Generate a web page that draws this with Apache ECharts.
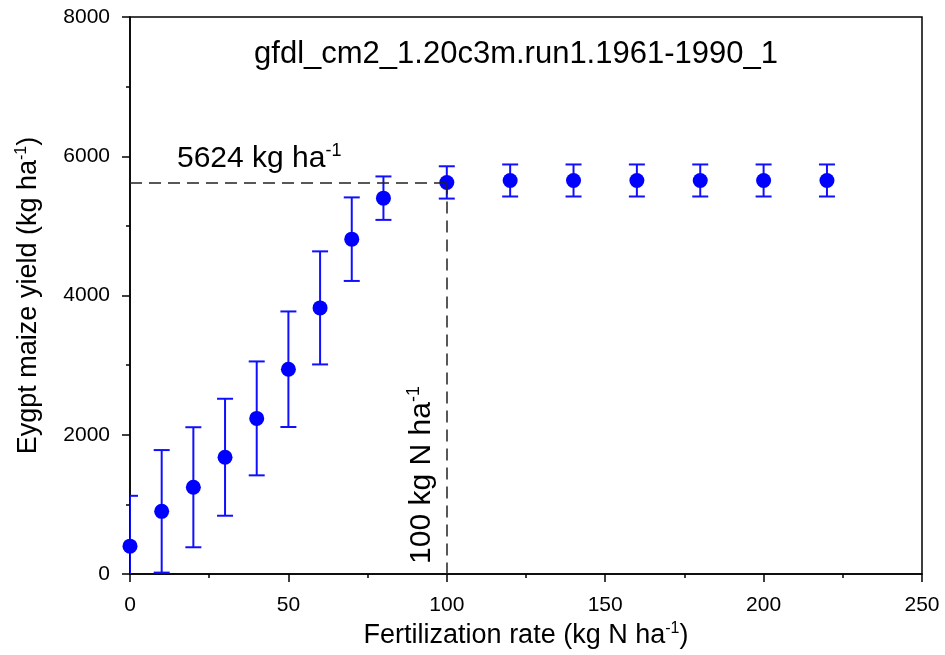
<!DOCTYPE html>
<html>
<head>
<meta charset="utf-8">
<script src="https://cdn.jsdelivr.net/npm/echarts@6/dist/echarts.min.js"></script>
<style>
html,body{margin:0;padding:0;background:#fff;}
#chart{width:945px;height:655px;}
</style>
</head>
<body>
<div id="chart"></div>
<script>
// ---- data ----
var fertRates = [0, 10, 20, 30, 40, 50, 60, 70, 80, 100, 120, 140, 160, 180, 200, 220];
var yieldMean = [400, 900, 1246, 1677, 2235, 2941, 3822, 4809, 5398, 5624, 5652, 5652, 5652, 5652, 5652, 5652];
var yieldSD   = [723, 880, 862, 840, 818, 830, 812, 600, 312, 232, 230, 230, 230, 230, 230, 230];
var xTicks = [0, 50, 100, 150, 200, 250];
var yTicks = [0, 2000, 4000, 6000, 8000];
var optimumYield = 5624;
var optimumRate = 100;
var titleText = 'gfdl_cm2_1.20c3m.run1.1961-1990_1';

var FONT = '"Liberation Sans", Arial, Helvetica, sans-serif';
var pointData = fertRates.map(function (x, i) { return [x, yieldMean[i]]; });
var errData = fertRates.map(function (x, i) { return [x, yieldMean[i] - yieldSD[i], yieldMean[i] + yieldSD[i]]; });

var chart = echarts.init(document.getElementById('chart'), null, {renderer: 'canvas'});

var supRich = {
  n: {fontFamily: FONT, fontSize: 27, color: '#000'},
  s: {fontFamily: FONT, fontSize: 16, color: '#000', verticalAlign: 'top', padding: [0, 0, 14, 0]}
};
var annRich = {
  n: {fontFamily: FONT, fontSize: 30, color: '#000'},
  s: {fontFamily: FONT, fontSize: 18, color: '#000', verticalAlign: 'top', padding: [0, 0, 15, 0]}
};

var option = {
  backgroundColor: '#fff',
  animation: false,
  title: {
    text: titleText,
    left: 511,
    top: 34,
    textAlign: 'center',
    textStyle: {fontFamily: FONT, fontSize: 31, fontWeight: 'normal', color: '#000'}
  },
  grid: {left: 130, top: 17, right: 23, bottom: 81, show: true, borderColor: '#000', borderWidth: 1.5, backgroundColor: 'transparent'},
  xAxis: {
    type: 'value', min: xTicks[0], max: xTicks[xTicks.length - 1], interval: 50,
    name: '{n|Fertilization rate (kg N ha}{s|-1}{n|)}',
    nameLocation: 'middle', nameGap: 44,
    nameTextStyle: {rich: supRich},
    axisLine: {show: true, onZero: false, lineStyle: {color: '#000', width: 1.5}},
    axisTick: {show: true, inside: false, length: 8, lineStyle: {color: '#000', width: 1.5}},
    minorTick: {show: true, splitNumber: 2, length: 4, lineStyle: {color: '#000', width: 1.5}},
    splitLine: {show: false},
    axisLabel: {margin: 21, color: '#000', fontFamily: FONT, fontSize: 21, formatter: function (v) { return String(v); }}
  },
  yAxis: {
    type: 'value', min: yTicks[0], max: yTicks[yTicks.length - 1], interval: 2000,
    name: '{n|Eygpt maize yield (kg ha}{s|-1}{n|)}',
    nameLocation: 'middle', nameGap: 86, nameRotate: 90,
    nameTextStyle: {rich: supRich},
    axisLine: {show: true, onZero: false, lineStyle: {color: '#000', width: 1.5}},
    axisTick: {show: true, inside: false, length: 8, lineStyle: {color: '#000', width: 1.5}},
    minorTick: {show: true, splitNumber: 2, length: 4, lineStyle: {color: '#000', width: 1.5}},
    splitLine: {show: false},
    axisLabel: {margin: 20, color: '#000', fontFamily: FONT, fontSize: 21, formatter: function (v) { return String(v); }}
  },
  series: [
    {
      type: 'custom',
      name: 'sd',
      clip: true,
      z: 2,
      data: errData,
      renderItem: function (params, api) {
        var x = api.value(0);
        var lo = api.coord([x, api.value(1)]);
        var hi = api.coord([x, api.value(2)]);
        var hw = 8;
        var st = {stroke: '#1010ff', lineWidth: 2, fill: null};
        return {
          type: 'group',
          children: [
            {type: 'line', shape: {x1: lo[0], y1: lo[1], x2: hi[0], y2: hi[1]}, style: st},
            {type: 'line', shape: {x1: hi[0] - hw, y1: hi[1], x2: hi[0] + hw, y2: hi[1]}, style: st},
            {type: 'line', shape: {x1: lo[0] - hw, y1: lo[1], x2: lo[0] + hw, y2: lo[1]}, style: st}
          ]
        };
      }
    },
    {
      type: 'scatter',
      name: 'yield',
      z: 3,
      symbol: 'circle',
      symbolSize: 15,
      itemStyle: {color: '#0000ff', opacity: 1},
      data: pointData,
      markLine: {
        silent: true,
        symbol: ['none', 'none'],
        label: {show: false},
        lineStyle: {color: '#222', width: 1.5, type: [12, 7]},
        data: [
          [{coord: [0, optimumYield]}, {coord: [optimumRate, optimumYield]}],
          [{coord: [optimumRate, optimumYield]}, {coord: [optimumRate, 0]}]
        ]
      }
    }
  ],
  graphic: [
    {
      type: 'text', left: 177, top: 142, z: 10,
      style: {text: '{n|' + optimumYield + ' kg ha}{s|-1}', rich: annRich}
    },
    {
      type: 'text', x: 422, y: 475, rotation: Math.PI / 2, z: 10,
      style: {text: '{n|' + optimumRate + ' kg N ha}{s|-1}', align: 'center', verticalAlign: 'middle', rich: annRich}
    }
  ]
};
chart.setOption(option);
</script>
</body>
</html>
